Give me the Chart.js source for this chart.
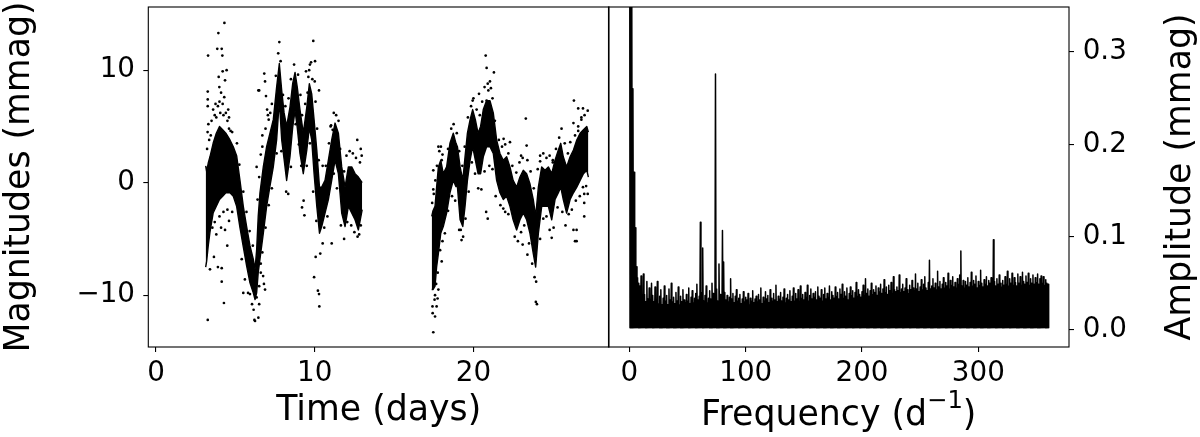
<!DOCTYPE html>
<html>
<head>
<meta charset="utf-8">
<script src="https://cdn.jsdelivr.net/npm/chart.js@4.4.1/dist/chart.umd.min.js"></script>
<style>
html,body{margin:0;padding:0;background:#fff;}
#wrap{position:relative;width:1200px;height:437px;overflow:hidden;}
#wrap canvas{position:absolute;left:0;top:0;}
</style>
</head>
<body>
<div id="wrap">
<canvas id="lc" width="1200" height="437"></canvas>
<canvas id="ps" width="1200" height="437"></canvas>
</div>
<script>
// ---------------- Light curve (left panel) ----------------
// dense band of points: time (days), upper and lower edge (mmag)
const seg1Time = [3.13,3.19,3.3,3.4,3.6,3.8,4.0,4.2,4.4,4.66,4.87,5.08,5.29,5.5,5.71,5.92,6.13,6.24,6.34,6.44,6.55,6.76,6.97,7.18,7.39,7.6,7.77,7.92,8.07,8.23,8.44,8.61,8.76,8.9,9.07,9.28,9.5,9.66,9.81,9.96,10.13,10.3,10.44,10.65,10.86,11.07,11.28,11.49,11.7,11.91,12.12,12.33,12.54,12.75,12.99];
const seg1High = [1.5,1.0,1.8,2.3,3.5,4.4,5.0,4.7,4.4,3.8,3.2,2.4,0.2,-2.1,-3.9,-5.6,-6.8,-7.7,-6.0,-3.0,-0.9,1.4,3.2,4.4,5.6,8.5,10.6,8.2,6.2,5.0,6.7,8.8,9.8,8.5,6.5,4.4,6.7,8.8,7.9,5.6,2.9,-0.4,-0.4,0.2,2.0,3.8,5.3,4.4,1.4,-0.4,1.4,1.4,0.8,0.5,0.0];
const seg1Low = [-7.5,-7.0,-5.5,-4.4,-2.7,-2.1,-1.5,-1.2,-0.9,-0.9,-1.2,-2.1,-4.0,-5.7,-7.4,-8.9,-9.8,-10.4,-9.8,-8.0,-6.8,-4.5,-2.1,-0.3,1.4,3.8,7.3,3.8,2.1,0.2,2.3,4.9,6.4,4.9,2.6,0.8,2.9,4.9,3.8,0.8,-2.1,-4.5,-3.9,-2.7,-1.5,0.2,2.0,0.8,-2.7,-3.9,-2.1,-2.7,-3.3,-4.2,-2.4];

const seg2Time = [17.37,17.45,17.58,17.68,17.79,17.94,18.1,18.31,18.52,18.73,18.9,18.99,19.16,19.33,19.47,19.62,19.79,19.95,20.12,20.29,20.45,20.62,20.83,21.04,21.25,21.46,21.67,21.88,22.09,22.3,22.5,22.72,22.93,23.14,23.35,23.56,23.77,23.92,24.09,24.3,24.51,24.72,24.93,25.14,25.35,25.5,25.66,25.87,26.09,26.3,26.51,26.72,26.93,27.14,27.24];
const seg2High = [-3.0,-2.5,-2.1,-0.4,1.4,2.0,0.8,1.4,3.5,4.4,3.5,3.2,1.4,0.2,2.3,4.4,5.6,6.5,5.6,4.4,5.0,6.5,7.3,7.3,6.2,3.8,2.6,2.0,2.3,1.4,0.2,-0.4,0.5,1.1,0.8,-0.1,-1.5,-3.0,-0.4,1.4,1.1,1.4,0.8,2.0,2.9,3.5,2.3,1.4,2.3,2.9,3.8,4.4,4.7,5.0,4.5];
const seg2Low = [-9.5,-9.5,-9.2,-7.5,-6.3,-4.5,-3.9,-2.7,-0.9,0.2,-0.35,-0.35,-3.3,-3.9,-2.1,0.2,2.0,3.2,2.0,0.8,0.8,2.3,3.2,3.2,2.6,0.2,-0.9,-1.5,-1.2,-2.1,-3.3,-4.2,-3.3,-2.7,-3.3,-4.5,-6.3,-7.5,-4.5,-2.1,-2.1,-2.1,-3.3,-1.5,-0.9,-0.4,-1.5,-2.7,-1.5,-0.9,-0.4,0.2,0.8,1.1,0.5];

// isolated points far outside the dense band
const outTime = [3.28,3.26,3.26,3.26,3.26,3.4,3.65,3.9,4.14,4.14,4.28,4.49,4.31,3.93,3.86,4.14,4.18,3.95,3.99,4.2,4.45,4.35,4.0,4.3,4.55,3.7,4.6,
  6.24,6.2,6.45,6.5,6.34,6.8,6.87,5.5,5.92,6.5,6.45,6.82,6.87,6.93,6.34,7.0,7.1,6.7,6.6,6.75,
  7.77,8.33,9.45,9.7,9.77,10.02,9.91,10.27,10.0,9.6,9.96,10.06,10.2,10.27,10.29,11.07,10.5,11.03,11.13,12.68,12.9,12.96,12.7,12.8,9.3,9.35,9.2,
  17.47,17.43,17.58,17.68,17.58,17.47,17.47,17.79,18.0,17.9,17.74,17.79,18.0,19.2,19.25,20.77,20.83,21.29,21.04,20.94,20.83,20.35,19.95,20.8,20.9,21.88,23.1,23.4,23.93,24.0,23.3,23.35,23.0,24.93,26.3,26.5,26.4,26.5,26.33,26.6,26.9,26.3,26.6,26.8,26.98,26.98,26.98,22.3,21.9,24.2,25.0];
const outMag = [11.3,8.1,7.4,6.8,-12.2,-7.7,-6.6,-7.5,-7.6,-8.8,-10.7,-5.6,14.2,13.3,11.9,11.9,11.3,9.4,8.5,9.9,10.0,9.1,7.2,7.6,6.5,6.0,5.8,
  -12.3,-12.2,-12.0,-10.8,-10.2,-9.0,-9.5,-9.8,-9.9,8.2,8.2,9.7,9.0,7.7,1.4,6.5,5.6,4.2,-7.2,-8.3,
  12.5,-1.0,9.9,10.5,10.7,10.8,12.6,8.2,9.0,9.4,-8.4,-6.6,-9.6,-9.9,-11.0,-5.4,-5.4,5.1,4.7,3.8,3.0,2.4,-4.8,-4.6,-1.6,-2.9,-2.2,
  -13.3,-11.6,-11.9,-11.0,-10.0,1.1,-0.6,3.2,2.0,1.2,-10.3,-9.5,-7.0,-4.2,-5.1,11.3,10.2,9.8,9.0,8.2,7.3,7.9,7.3,-2.6,-3.2,-2.3,-5.5,-6.4,-10.6,-10.8,5.7,3.3,2.4,-4.9,-4.2,-4.2,-5.2,-5.2,7.3,6.6,6.6,5.3,4.6,5.8,-1.0,-1.8,-3.0,3.6,3.9,1.9,1.8];

// scattered points just outside the edges of the dense band
const edgeTime = [3.22,3.25,3.3,3.35,3.45,3.5,3.6,3.75,3.8,3.9,4.05,4.1,4.2,4.25,4.4,4.5,4.6,4.7,4.8,
  3.55,3.7,3.8,4.0,4.1,4.25,4.35,4.5,4.6,4.8,
  5.1,5.25,5.5,5.7,5.9,6.1,5.4,5.6,5.8,6.05,6.15,
  6.4,6.5,6.6,6.7,6.9,7.05,7.2,7.3,6.5,6.6,6.7,6.9,7.1,7.3,
  7.55,7.7,7.85,8.0,8.15,8.35,8.5,8.7,8.95,9.1,9.2,7.6,7.9,8.2,8.5,8.8,9.0,9.15,
  9.4,9.55,9.65,9.85,10.05,10.15,10.25,9.5,9.7,9.9,10.1,10.35,
  10.5,10.7,10.9,11.0,11.2,11.35,11.5,11.6,11.85,12.0,12.2,12.4,12.6,12.85,10.6,10.8,11.2,11.4,11.65,11.85,12.05,12.3,12.5,12.9,
  17.4,17.5,17.6,17.7,17.85,17.95,18.05,17.42,17.55,17.65,17.75,17.9,18.05,18.2,
  18.4,18.6,18.75,18.95,19.1,19.3,19.45,18.4,18.65,18.85,19.1,19.35,19.5,
  19.65,19.85,20.0,20.2,20.4,20.55,20.7,20.9,21.1,21.2,21.35,19.7,19.9,20.1,20.3,20.5,20.7,21.0,21.2,21.4,
  21.6,21.8,22.0,22.2,22.45,22.7,22.9,23.1,23.4,23.6,23.8,21.7,22.0,22.2,22.6,22.8,23.0,23.2,23.5,23.7,23.85,23.95,
  24.05,24.2,24.4,24.6,24.8,25.0,25.2,25.4,25.55,25.75,25.95,26.1,26.4,26.6,26.8,27.0,27.2,
  24.2,24.4,24.6,24.8,25.05,25.3,25.6,25.8,26.0,26.2,26.45,26.7,26.9,27.1,27.2];
const edgeMag = [3.0,4.5,5.2,3.8,4.2,5.5,6.5,7.0,5.8,6.8,6.2,8.0,7.0,6.0,6.2,5.5,4.8,4.6,4.5,
  -4.0,-3.5,-4.6,-3.0,-4.0,-2.6,-4.2,-2.4,-3.4,-2.6,
  3.5,1.6,-0.8,-2.6,-4.3,-5.6,-6.8,-8.6,-9.8,-10.8,-11.3,
  -1.5,0.5,2.5,3.2,4.8,6.0,6.2,7.0,-9.2,-8.0,-6.2,-4.0,-2.0,-0.5,
  9.5,11.5,10.8,7.8,6.8,7.5,9.2,10.5,9.6,7.8,6.0,2.6,2.8,-0.8,1.4,5.2,3.4,1.5,
  7.0,8.0,10.0,9.2,7.2,4.8,2.0,1.5,3.5,-0.8,-3.4,-6.3,
  1.5,1.5,3.5,5.0,6.2,6.0,5.5,3.0,1.0,2.4,2.8,2.6,2.2,1.8,-4.0,-3.0,0.8,-0.5,-3.8,-5.0,-3.5,-3.8,-4.4,-3.8,
  -1.8,-1.0,0.2,1.5,2.8,3.2,2.5,-11.0,-10.4,-9.0,-8.0,-6.0,-5.2,-4.5,
  3.0,4.8,5.2,4.4,2.8,1.5,3.2,-2.5,-1.2,-1.6,-4.2,-4.8,-3.2,
  5.8,6.8,7.5,6.5,6.0,7.2,8.5,8.8,8.4,7.5,5.5,-0.8,1.8,0.8,-0.5,-0.6,1.0,1.5,1.2,-1.2,
  3.8,3.2,3.4,2.6,1.5,0.9,1.8,2.2,2.0,1.0,-0.5,-2.0,-2.6,-2.8,-4.8,-5.2,-4.4,-3.8,-5.4,-7.2,-8.4,-8.8,
  1.2,2.4,2.6,2.2,2.4,2.0,3.0,4.0,4.8,3.5,2.6,3.6,4.2,5.0,5.6,6.0,6.4,
  -5.0,-3.2,-3.0,-4.2,-4.0,-2.2,-2.6,-3.8,-2.8,-2.4,-1.6,-1.2,-0.4,-0.3,-1.0];

const lcXTicks = [0, 10, 20];
const lcXTickLabels = ['0', '10', '20'];
const lcYTicks = [-10, 0, 10];
const lcYTickLabels = ['\u221210', '0', '10'];
const lcXTitle = 'Time (days)';
const lcYTitle = 'Magnitudes (mmag)';

// ---------------- Amplitude spectrum (right panel) ----------------
const psFreqStart = 0;      // d^-1
const psFreqStep = 1;       // d^-1, one local maximum read per step
const psPeakAmp = [
 0.90,0.52,0.37,0.26,0.17,0.11,0.068,0.056,0.05,0.047,
 0.058,0.036,0.06,0.038,0.03,0.052,0.033,0.045,0.029,0.05,
 0.037,0.03,0.046,0.032,0.052,0.028,0.036,0.043,0.027,0.034,
 0.047,0.031,0.037,0.027,0.044,0.032,0.05,0.03,0.035,0.028,
 0.04,0.031,0.046,0.027,0.036,0.03,0.043,0.032,0.029,0.038,
 0.031,0.045,0.028,0.035,0.042,0.029,0.034,0.039,0.049,0.032,
 0.036,0.116,0.04,0.088,0.031,0.037,0.047,0.029,0.034,0.042,
 0.033,0.05,0.039,0.035,0.276,0.044,0.031,0.071,0.038,0.034,
 0.107,0.073,0.04,0.032,0.037,0.03,0.035,0.055,0.033,0.039,
 0.029,0.036,0.043,0.031,0.034,0.038,0.028,0.033,0.041,0.03,
 0.035,0.032,0.039,0.027,0.034,0.031,0.042,0.029,0.033,0.036,
 0.03,0.038,0.032,0.045,0.028,0.035,0.031,0.041,0.033,0.037,
 0.029,0.043,0.034,0.031,0.039,0.032,0.048,0.03,0.036,0.033,
 0.04,0.031,0.035,0.044,0.029,0.034,0.038,0.032,0.042,0.03,
 0.036,0.045,0.031,0.039,0.033,0.043,0.03,0.047,0.034,0.038,
 0.032,0.04,0.035,0.048,0.031,0.037,0.044,0.033,0.039,0.035,
 0.041,0.032,0.046,0.036,0.034,0.043,0.031,0.038,0.045,0.033,
 0.039,0.035,0.047,0.032,0.041,0.037,0.034,0.046,0.036,0.04,
 0.033,0.044,0.038,0.049,0.034,0.041,0.036,0.045,0.032,0.039,
 0.046,0.037,0.042,0.034,0.04,0.051,0.036,0.043,0.038,0.035,
 0.041,0.048,0.037,0.055,0.039,0.044,0.036,0.042,0.05,0.038,
 0.043,0.04,0.047,0.037,0.045,0.041,0.049,0.039,0.044,0.054,
 0.04,0.046,0.038,0.048,0.042,0.051,0.039,0.057,0.043,0.041,
 0.046,0.042,0.059,0.04,0.044,0.049,0.041,0.045,0.055,0.043,
 0.039,0.048,0.043,0.053,0.045,0.042,0.06,0.044,0.05,0.041,
 0.046,0.054,0.043,0.049,0.057,0.045,0.042,0.051,0.075,0.044,
 0.047,0.055,0.045,0.05,0.043,0.063,0.046,0.052,0.044,0.049,
 0.056,0.045,0.051,0.047,0.061,0.044,0.053,0.048,0.057,0.046,
 0.051,0.045,0.055,0.049,0.059,0.085,0.047,0.053,0.045,0.052,
 0.048,0.056,0.046,0.051,0.062,0.047,0.053,0.049,0.058,0.045,
 0.052,0.048,0.064,0.05,0.046,0.054,0.049,0.057,0.047,0.053,
 0.05,0.056,0.048,0.097,0.052,0.047,0.055,0.049,0.059,0.05,
 0.046,0.053,0.048,0.057,0.049,0.063,0.047,0.055,0.05,0.061,
 0.048,0.056,0.051,0.047,0.06,0.05,0.057,0.048,0.062,0.052,
 0.049,0.058,0.051,0.061,0.048,0.055,0.05,0.059,0.049,0.056,
 0.051,0.06,0.049,0.055,0.058,0.05,0.057,0.048,0.054,0.05,
 0.049];
const psFloorAmp = 0.002;   // bottom edge of the noise band (mmag)

const psXTicks = [0, 100, 200, 300];
const psXTickLabels = ['0', '100', '200', '300'];
const psYTicks = [0, 0.1, 0.2, 0.3];
const psYTickLabels = ['0.0', '0.1', '0.2', '0.3'];
const psXTitleParts = ['Frequency (d', '\u22121', ')'];
const psYTitle = 'Amplitude (mmag)';

// ---------------- drawing ----------------
const FONT = 'DejaVu Sans';
const TICK_PX = 27.78;
const LABEL_PX = 34.72;
Chart.defaults.font.family = FONT;
Chart.defaults.color = '#000';

const toPts = (xs, ys) => xs.map((x, i) => ({x: x, y: ys[i]}));

const framePlugin = {
  id: 'frame',
  afterDraw(chart) {
    const a = chart.chartArea, ctx = chart.ctx;
    ctx.save();
    ctx.strokeStyle = '#000';
    ctx.lineWidth = 1.1;
    ctx.strokeRect(a.left, a.top, a.right - a.left, a.bottom - a.top);
    ctx.restore();
  }
};

function tickAxis(extra) {
  return Object.assign({
    grid: {display: true, drawOnChartArea: false, drawTicks: true, tickLength: 5, color: '#000', lineWidth: 1.1},
    border: {display: false}
  }, extra);
}

const bandStyle = {showLine: true, pointRadius: 0, borderColor: '#000', borderWidth: 1.4, borderJoinStyle: 'round', backgroundColor: '#000'};
const dotStyle = {showLine: false, pointRadius: 1.35, pointBorderWidth: 0, pointBackgroundColor: '#000'};

// Left chart
const lcDatasets = [
  Object.assign({data: toPts(seg1Time, seg1High), fill: false}, bandStyle),
  Object.assign({data: toPts(seg1Time, seg1Low), fill: '-1'}, bandStyle),
  Object.assign({data: toPts(seg2Time, seg2High), fill: false}, bandStyle),
  Object.assign({data: toPts(seg2Time, seg2Low), fill: '-1'}, bandStyle),
  Object.assign({data: toPts(edgeTime, edgeMag)}, dotStyle),
  Object.assign({data: toPts(outTime, outMag)}, dotStyle)
];

new Chart(document.getElementById('lc'), {
  type: 'scatter',
  data: {datasets: lcDatasets},
  options: {
    responsive: false, animation: false, devicePixelRatio: 1,
    layout: {padding: {left: 0, right: 591, top: 7, bottom: 0}},
    plugins: {legend: {display: false}, tooltip: {enabled: false}},
    scales: {
      x: tickAxis({
        type: 'linear', position: 'bottom', min: -0.485, max: 28.54,
        afterBuildTicks: s => { s.ticks = lcXTicks.map(v => ({value: v})); },
        afterFit: s => { s.height = 90; s.paddingLeft = 0; s.paddingRight = 0; },
        ticks: {font: {size: TICK_PX, lineHeight: 1.2}, color: '#000', padding: 5, maxRotation: 0, autoSkip: false,
                callback: (v, i) => lcXTickLabels[i]},
        title: {display: true, text: lcXTitle, color: '#000', font: {size: LABEL_PX, lineHeight: 1.152}, padding: {top: 0, bottom: 5.7}}
      }),
      y: tickAxis({
        type: 'linear', position: 'left', min: -14.61, max: 15.62,
        afterBuildTicks: s => { s.ticks = lcYTicks.map(v => ({value: v})); },
        afterFit: s => { s.width = 148.3; s.paddingTop = 0; s.paddingBottom = 0; },
        ticks: {font: {size: TICK_PX, lineHeight: 1.2}, color: '#000', padding: 8.3, autoSkip: false,
                callback: (v, i) => lcYTickLabels[i]},
        title: {display: true, text: lcYTitle, color: '#000', font: {size: LABEL_PX, lineHeight: 1.152}, padding: {top: 0, bottom: 0}}
      })
    }
  },
  plugins: [framePlugin]
});

// Right chart
const psPoints = [];
psPeakAmp.forEach((a, i) => {
  const f = psFreqStart + i * psFreqStep;
  psPoints.push({x: f, y: a});
  psPoints.push({x: f + psFreqStep / 2, y: psFloorAmp});
});

const psTitlePlugin = {
  id: 'psTitles',
  afterDraw(chart) {
    const a = chart.chartArea, ctx = chart.ctx;
    ctx.save();
    ctx.fillStyle = '#000';
    const big = LABEL_PX + 'px "' + FONT + '"';
    const small = (LABEL_PX * 0.7) + 'px "' + FONT + '"';
    ctx.font = big;
    const w0 = ctx.measureText(psXTitleParts[0]).width;
    const w2 = ctx.measureText(psXTitleParts[2]).width;
    ctx.font = small;
    const w1 = ctx.measureText(psXTitleParts[1]).width;
    const total = w0 + w1 + w2;
    const cx = (a.left + a.right) / 2;
    const base = a.bottom + 78;
    let x = cx - total / 2;
    ctx.textAlign = 'left';
    ctx.textBaseline = 'alphabetic';
    ctx.font = big;
    ctx.fillText(psXTitleParts[0], x, base);
    x += w0;
    ctx.font = small;
    ctx.fillText(psXTitleParts[1], x, base - 17);
    x += w1;
    ctx.font = big;
    ctx.fillText(psXTitleParts[2], x, base);
    ctx.font = big;
    ctx.translate(a.right + 121, (a.top + a.bottom) / 2);
    ctx.rotate(-Math.PI / 2);
    ctx.textAlign = 'center';
    ctx.fillText(psYTitle, 0, 0);
    ctx.restore();
  }
};

new Chart(document.getElementById('ps'), {
  type: 'scatter',
  data: {datasets: [
    {data: psPoints, showLine: true, pointRadius: 0, borderColor: '#000', borderWidth: 1.5, borderJoinStyle: 'round', fill: false}
  ]},
  options: {
    responsive: false, animation: false, devicePixelRatio: 1,
    layout: {padding: {left: 608.5, right: 0, top: 7, bottom: 0}},
    plugins: {legend: {display: false}, tooltip: {enabled: false}},
    scales: {
      x: tickAxis({
        type: 'linear', position: 'bottom', min: -18, max: 378,
        afterBuildTicks: s => { s.ticks = psXTicks.map(v => ({value: v})); },
        afterFit: s => { s.height = 90; s.paddingLeft = 0; s.paddingRight = 0; },
        ticks: {font: {size: TICK_PX, lineHeight: 1.2}, color: '#000', padding: 5, maxRotation: 0, autoSkip: false,
                callback: (v, i) => psXTickLabels[i]},
        title: {display: false}
      }),
      y: tickAxis({
        type: 'linear', position: 'right', min: -0.0187, max: 0.3482,
        afterBuildTicks: s => { s.ticks = psYTicks.map(v => ({value: v})); },
        afterFit: s => { s.width = 131; s.paddingTop = 0; s.paddingBottom = 0; },
        ticks: {font: {size: TICK_PX, lineHeight: 1.2}, color: '#000', padding: 8.7, autoSkip: false,
                callback: (v, i) => psYTickLabels[i]},
        title: {display: false}
      })
    }
  },
  plugins: [framePlugin, psTitlePlugin]
});
</script>
</body>
</html>
